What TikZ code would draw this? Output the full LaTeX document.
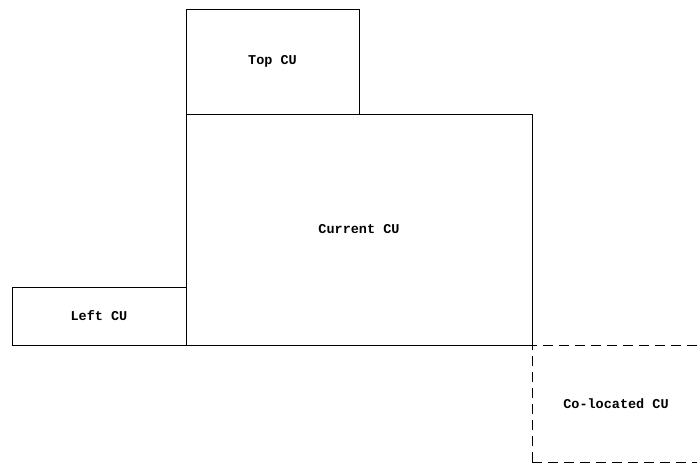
\documentclass[tikz,border=0pt]{standalone}
\usepackage{fontspec}
\setmonofont{Liberation Mono}

\begin{document}
\begin{tikzpicture}[x=1pt,y=-1pt]
\tikzstyle{every node}+=[inner sep=0pt,font=\fontsize{13.5}{16}\ttfamily\bfseries]
\tikzstyle{cu}=[draw=black,line width=0.9pt,rectangle]
\tikzstyle{colocated}=[cu,dash pattern=on 10pt off 6pt]
\useasboundingbox (0,0) rectangle (697,463);
\node [cu,minimum width=173pt,minimum height=105pt] (top) at (272.5,61.5) {Top CU};
\node [cu,minimum width=346pt,minimum height=231pt] (cur) at (359,229.5) {Current CU};
\node [cu,minimum width=174pt,minimum height=58pt] (left) at (99,316) {Left CU};
\node [colocated,minimum width=168pt,minimum height=117.4pt] (col) at (616,403.7) {Co-located CU};
\end{tikzpicture}
\end{document}
